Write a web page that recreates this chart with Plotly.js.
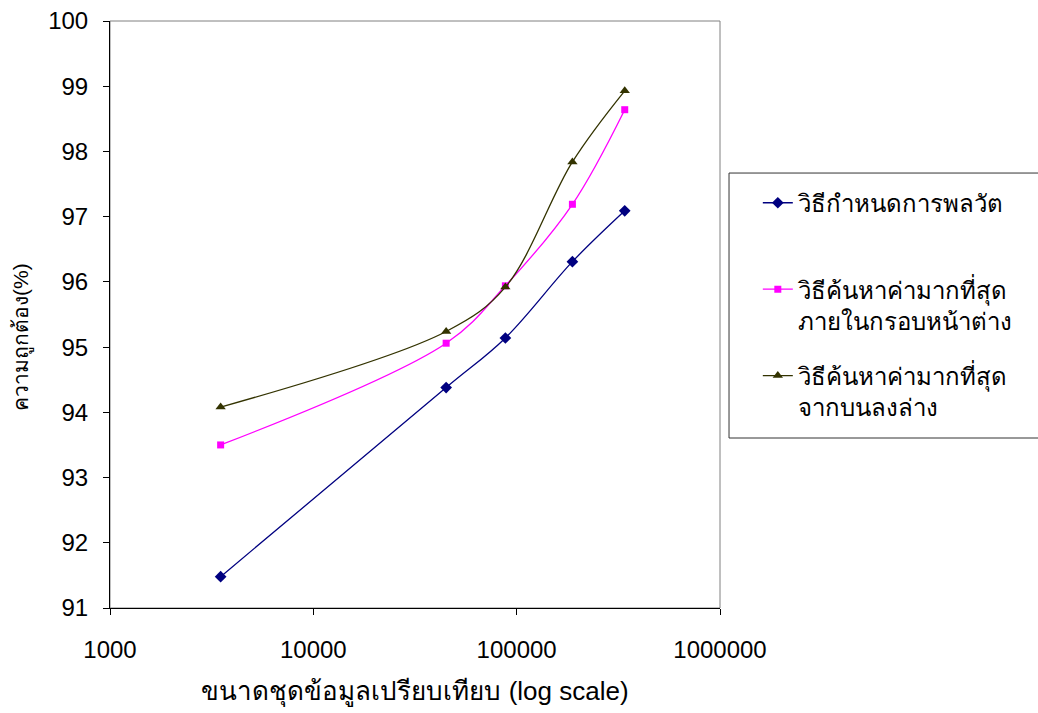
<!DOCTYPE html>
<html>
<head>
<meta charset="utf-8">
<script src="https://cdn.plot.ly/plotly-3.0.1.min.js"></script>
<style>html,body{margin:0;padding:0;background:#fff;}#chart{width:1038px;height:713px;}</style>
</head>
<body>
<div id="chart"></div>
<script>
const datasetSizes = [3500, 45000, 88000, 188000, 340000];
const dynamicMethod = [91.48, 94.38, 95.14, 96.31, 97.09];
const windowMaxMethod = [93.50, 95.06, 95.94, 97.19, 98.64];
const topDownMaxMethod = [94.08, 95.24, 95.92, 97.84, 98.93];
const seriesNames = [
  'วิธีกำหนดการพลวัต<br> ',
  'วิธีค้นหาค่ามากที่สุด<br>ภายในกรอบหน้าต่าง',
  'วิธีค้นหาค่ามากที่สุด<br>จากบนลงล่าง'
];
const xTickVals = [1000, 10000, 100000, 1000000];
const xTickText = ['1000', '10000', '100000', '1000000'];
const yTickVals = [91, 92, 93, 94, 95, 96, 97, 98, 99, 100];
const xTitle = 'ขนาดชุดข้อมูลเปรียบเทียบ (log scale)';
const yTitle = 'ความถูกต้อง(%)';

const fontFam = 'Liberation Sans, Arial, sans-serif';

const traces = [
  {x: datasetSizes, y: dynamicMethod, name: seriesNames[0], legendgroup: 'a',
   mode: 'lines+markers', line: {color: '#000080', width: 1.3, shape: 'spline', smoothing: 1},
   marker: {symbol: 'diamond', size: 9, color: '#000080'}},
  {x: datasetSizes, y: windowMaxMethod, name: seriesNames[1], legendgroup: 'b',
   mode: 'lines+markers', line: {color: '#FF00FF', width: 1.3, shape: 'spline', smoothing: 1},
   marker: {symbol: 'square', size: 7, color: '#FF00FF'}},
  {x: datasetSizes, y: topDownMaxMethod, name: seriesNames[2], legendgroup: 'c',
   mode: 'lines+markers', line: {color: '#333300', width: 1.3, shape: 'spline', smoothing: 1},
   marker: {symbol: 'triangle-up', size: 9, color: '#333300'}}
];

const layout = {
  width: 1038, height: 713,
  margin: {l: 110, r: 318, t: 21, b: 105},
  paper_bgcolor: '#ffffff', plot_bgcolor: '#ffffff',
  font: {family: fontFam, size: 18, color: '#000'},
  showlegend: true,
  legend: {
    x: 1.062, xanchor: 'left', y: 0.728, yanchor: 'top',
    font: {family: fontFam, size: 24, color: '#000'},
    bgcolor: 'rgba(0,0,0,0)', borderwidth: 0,
    valign: 'top', tracegroupgap: 21, itemwidth: 30
  },
  xaxis: {
    type: 'log', range: [3, 6],
    tickvals: xTickVals, ticktext: xTickText,
    showgrid: false, zeroline: false,
    showline: true, linecolor: '#000', linewidth: 1,
    ticks: 'outside', ticklen: 6, tickcolor: '#000',
    ticklabelstandoff: 14,
    tickfont: {family: fontFam, size: 24},
    title: {text: xTitle, font: {family: fontFam, size: 26}, standoff: 20}
  },
  yaxis: {
    range: [91, 100], tickvals: yTickVals,
    showgrid: false, zeroline: false,
    showline: true, linecolor: '#000', linewidth: 1,
    ticks: 'outside', ticklen: 6, tickcolor: '#000',
    ticklabelstandoff: 10,
    tickfont: {family: fontFam, size: 24}
  },
  annotations: [
    {text: yTitle, xref: 'paper', yref: 'paper', x: -0.144, y: 0.462,
     xanchor: 'center', yanchor: 'middle', textangle: -90, showarrow: false,
     font: {family: fontFam, size: 21, color: '#000'}}
  ],
  shapes: [
    {type: 'rect', xref: 'paper', yref: 'paper', x0: 0, x1: 1, y0: 0, y1: 1,
     line: {color: '#808080', width: 1}, layer: 'below'},
    {type: 'rect', xref: 'paper', yref: 'paper', x0: 1.0148, x1: 1.54, y0: 0.2896, y1: 0.741,
     line: {color: '#333', width: 1}, layer: 'below'}
  ]
};

Plotly.newPlot('chart', traces, layout, {displayModeBar: false});
</script>
</body>
</html>
